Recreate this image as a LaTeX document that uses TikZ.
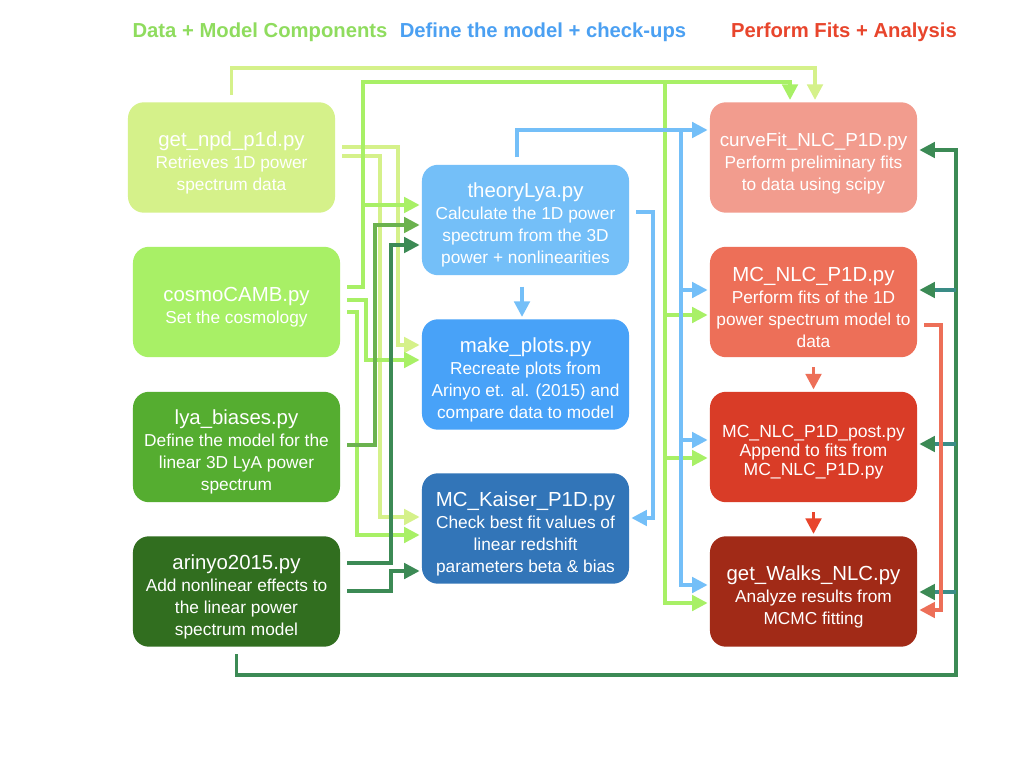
\documentclass[tikz,border=0pt]{standalone}
\usepackage{fontspec}
\setmainfont{Liberation Sans}
\usetikzlibrary{arrows.meta}

\definecolor{npd}{HTML}{D5F18A}
\definecolor{camb}{HTML}{A8F066}
\definecolor{bias}{HTML}{55AD30}
\definecolor{biasline}{HTML}{6BB24E}
\definecolor{ari}{HTML}{316E1F}
\definecolor{ariline}{HTML}{3C8A55}
\definecolor{aribranch}{HTML}{3A8C86}
\definecolor{theo}{HTML}{74BFF8}
\definecolor{plots}{HTML}{48A2F8}
\definecolor{kaiser}{HTML}{3275B8}
\definecolor{curve}{HTML}{F29C8E}
\definecolor{mcnlc}{HTML}{ED6F58}
\definecolor{post}{HTML}{D93C27}
\definecolor{walks}{HTML}{A12A17}
\definecolor{headgreen}{HTML}{8FDC5E}
\definecolor{headblue}{HTML}{4BA0F2}
\definecolor{headred}{HTML}{E8452C}

\newcommand\boxtitle[2][14.5]{{\fontsize{#1}{15.6}\selectfont\rule{0pt}{18pt}#2}}

\begin{document}
\begin{tikzpicture}[x=0.025cm, y=-0.025cm,
  box/.style={rounded corners=0.4cm, minimum width=5.175cm, minimum height=2.76cm,
    text=white, align=center, inner sep=2pt, font=\fontsize{12.3}{15.6}\selectfont},
  head/.style={font=\fontsize{14.4}{16}\selectfont\bfseries},
  link/.style={line width=2.4pt, -{Triangle[length=11pt,width=11pt]}, shorten >=1.5pt},
  leave/.style={shorten <=5pt},
  branch/.style={draw=aribranch, -{Triangle[length=11pt,width=11pt,color=ariline]}}]

\useasboundingbox[fill=white] (0,0) rectangle (1024,768);

% column headers
\node[head, text=headgreen] (hdata) at (260,32) {Data + Model Components};
\node[head, text=headblue] (hmodel) at (543,32) {Define the model + check-ups};
\node[head, text=headred] (hfits) at (844,32) {Perform Fits + Analysis};

% data + model components
\node[box, fill=npd] (getnpd) at (231.5,157.5) {\boxtitle{get\_npd\_p1d.py}\\ Retrieves 1D power\\ spectrum data};
\node[box, fill=camb] (camb) at (236.5,302) {\boxtitle{cosmoCAMB.py}\\ Set the cosmology};
\node[box, fill=bias] (biases) at (236.5,447) {\boxtitle{lya\_biases.py}\\ Define the model for the\\ linear 3D LyA power\\ spectrum};
\node[box, fill=ari] (arinyo) at (236.5,591.5) {\boxtitle{arinyo2015.py}\\ Add nonlinear effects to\\ the linear power\\ spectrum model};

% define the model
\node[box, fill=theo] (theory) at (525.5,220) {\boxtitle{theoryLya.py}\\ Calculate the 1D power\\ spectrum from the 3D\\ power + nonlinearities};
\node[box, fill=plots] (plots) at (525.5,374.5) {\boxtitle{make\_plots.py}\\ Recreate plots from\\ Arinyo et. al. (2015) and\\ compare data to model};
\node[box, fill=kaiser] (kaiser) at (525.5,528.5) {\boxtitle{MC\_Kaiser\_P1D.py}\\ Check best fit values of\\ linear redshift\\ parameters beta \& bias};

% fits + analysis
\node[box, fill=curve] (curve) at (813.5,157.5) {\boxtitle[13.4]{curveFit\_NLC\_P1D.py}\\ Perform preliminary fits\\ to data using scipy};
\node[box, fill=mcnlc] (mc) at (813.5,302) {\boxtitle{MC\_NLC\_P1D.py}\\ Perform fits of the 1D\\ power spectrum model to\\ data};
\node[box, fill=post, font=\fontsize{12.5}{13.6}\selectfont] (post) at (813.5,447) {\rule{0pt}{16pt}MC\_NLC\_P1D\_post.py\\ Append to fits from\\ MC\_NLC\_P1D.py};
\node[box, fill=walks] (walks) at (813.5,591.5) {\boxtitle{get\_Walks\_NLC.py}\\ Analyze results from\\ MCMC fitting};

% get_npd_p1d
\draw[link, leave, npd] (getnpd.north) -- (getnpd.north |- 0,68) -| (815,0 |- curve.north);
\draw[link, leave, npd] (getnpd.east |- 0,147) -- (398,147) |- (plots.west |- 0,345);
\draw[link, leave, npd] (getnpd.east |- 0,156) -- (380,156) |- (kaiser.west |- 0,517);

% cosmoCAMB
\draw[link, leave, camb] (camb.east |- 0,287) -| (363,82) -| (790,0 |- curve.north);
\draw[link, camb] (363,205) -- (theory.west |- 0,205);
\draw[link, camb] (665,82) |- (walks.west |- 0,603);
\draw[link, camb] (665,315) -- (mc.west |- 0,315);
\draw[link, camb] (665,458) -- (post.west |- 0,458);
\draw[link, leave, camb] (camb.east |- 0,300) -- (366,300) |- (plots.west |- 0,360);
\draw[link, leave, camb] (camb.east |- 0,312) -- (357,312) |- (kaiser.west |- 0,535);

% lya_biases
\draw[link, leave, biasline] (biases.east |- 0,445) -- (375,445) |- (theory.west |- 0,225);

% arinyo2015
\draw[link, leave, ariline] (arinyo.east |- 0,563) -- (391,563) |- (theory.west |- 0,245);
\draw[link, leave, ariline] (arinyo.east |- 0,591) -- (391,591) |- (kaiser.west |- 0,571);
\draw[link, leave, ariline] (arinyo.south) |- (956,675) |- (curve.east |- 0,150);
\draw[link, branch] (956,290) -- (mc.east |- 0,290);
\draw[link, branch] (956,444) -- (post.east |- 0,444);
\draw[link, branch] (956,592) -- (walks.east |- 0,592);

% theoryLya
\draw[link, leave, theo] (517,0 |- theory.north) |- (curve.west |- 0,130);
\draw[link, theo] (681,130) |- (walks.west |- 0,585);
\draw[link, theo] (681,290) -- (mc.west |- 0,290);
\draw[link, theo] (681,440) -- (post.west |- 0,440);
\draw[link, leave, theo] (theory.east |- 0,212) -- (653,212) |- (kaiser.east |- 0,518);
\draw[link, theo, shorten <=8pt] (522,0 |- theory.south) -- (522,0 |- plots.north);

% fits chain
\draw[link, mcnlc, shorten <=7pt] (mc.south) -- (post.north);
\draw[link, headred, shorten <=7pt] (post.south) -- (walks.north);
\draw[link, leave, mcnlc] (mc.east |- 0,325) -- (941,325) |- (walks.east |- 0,610);
\end{tikzpicture}
\end{document}
